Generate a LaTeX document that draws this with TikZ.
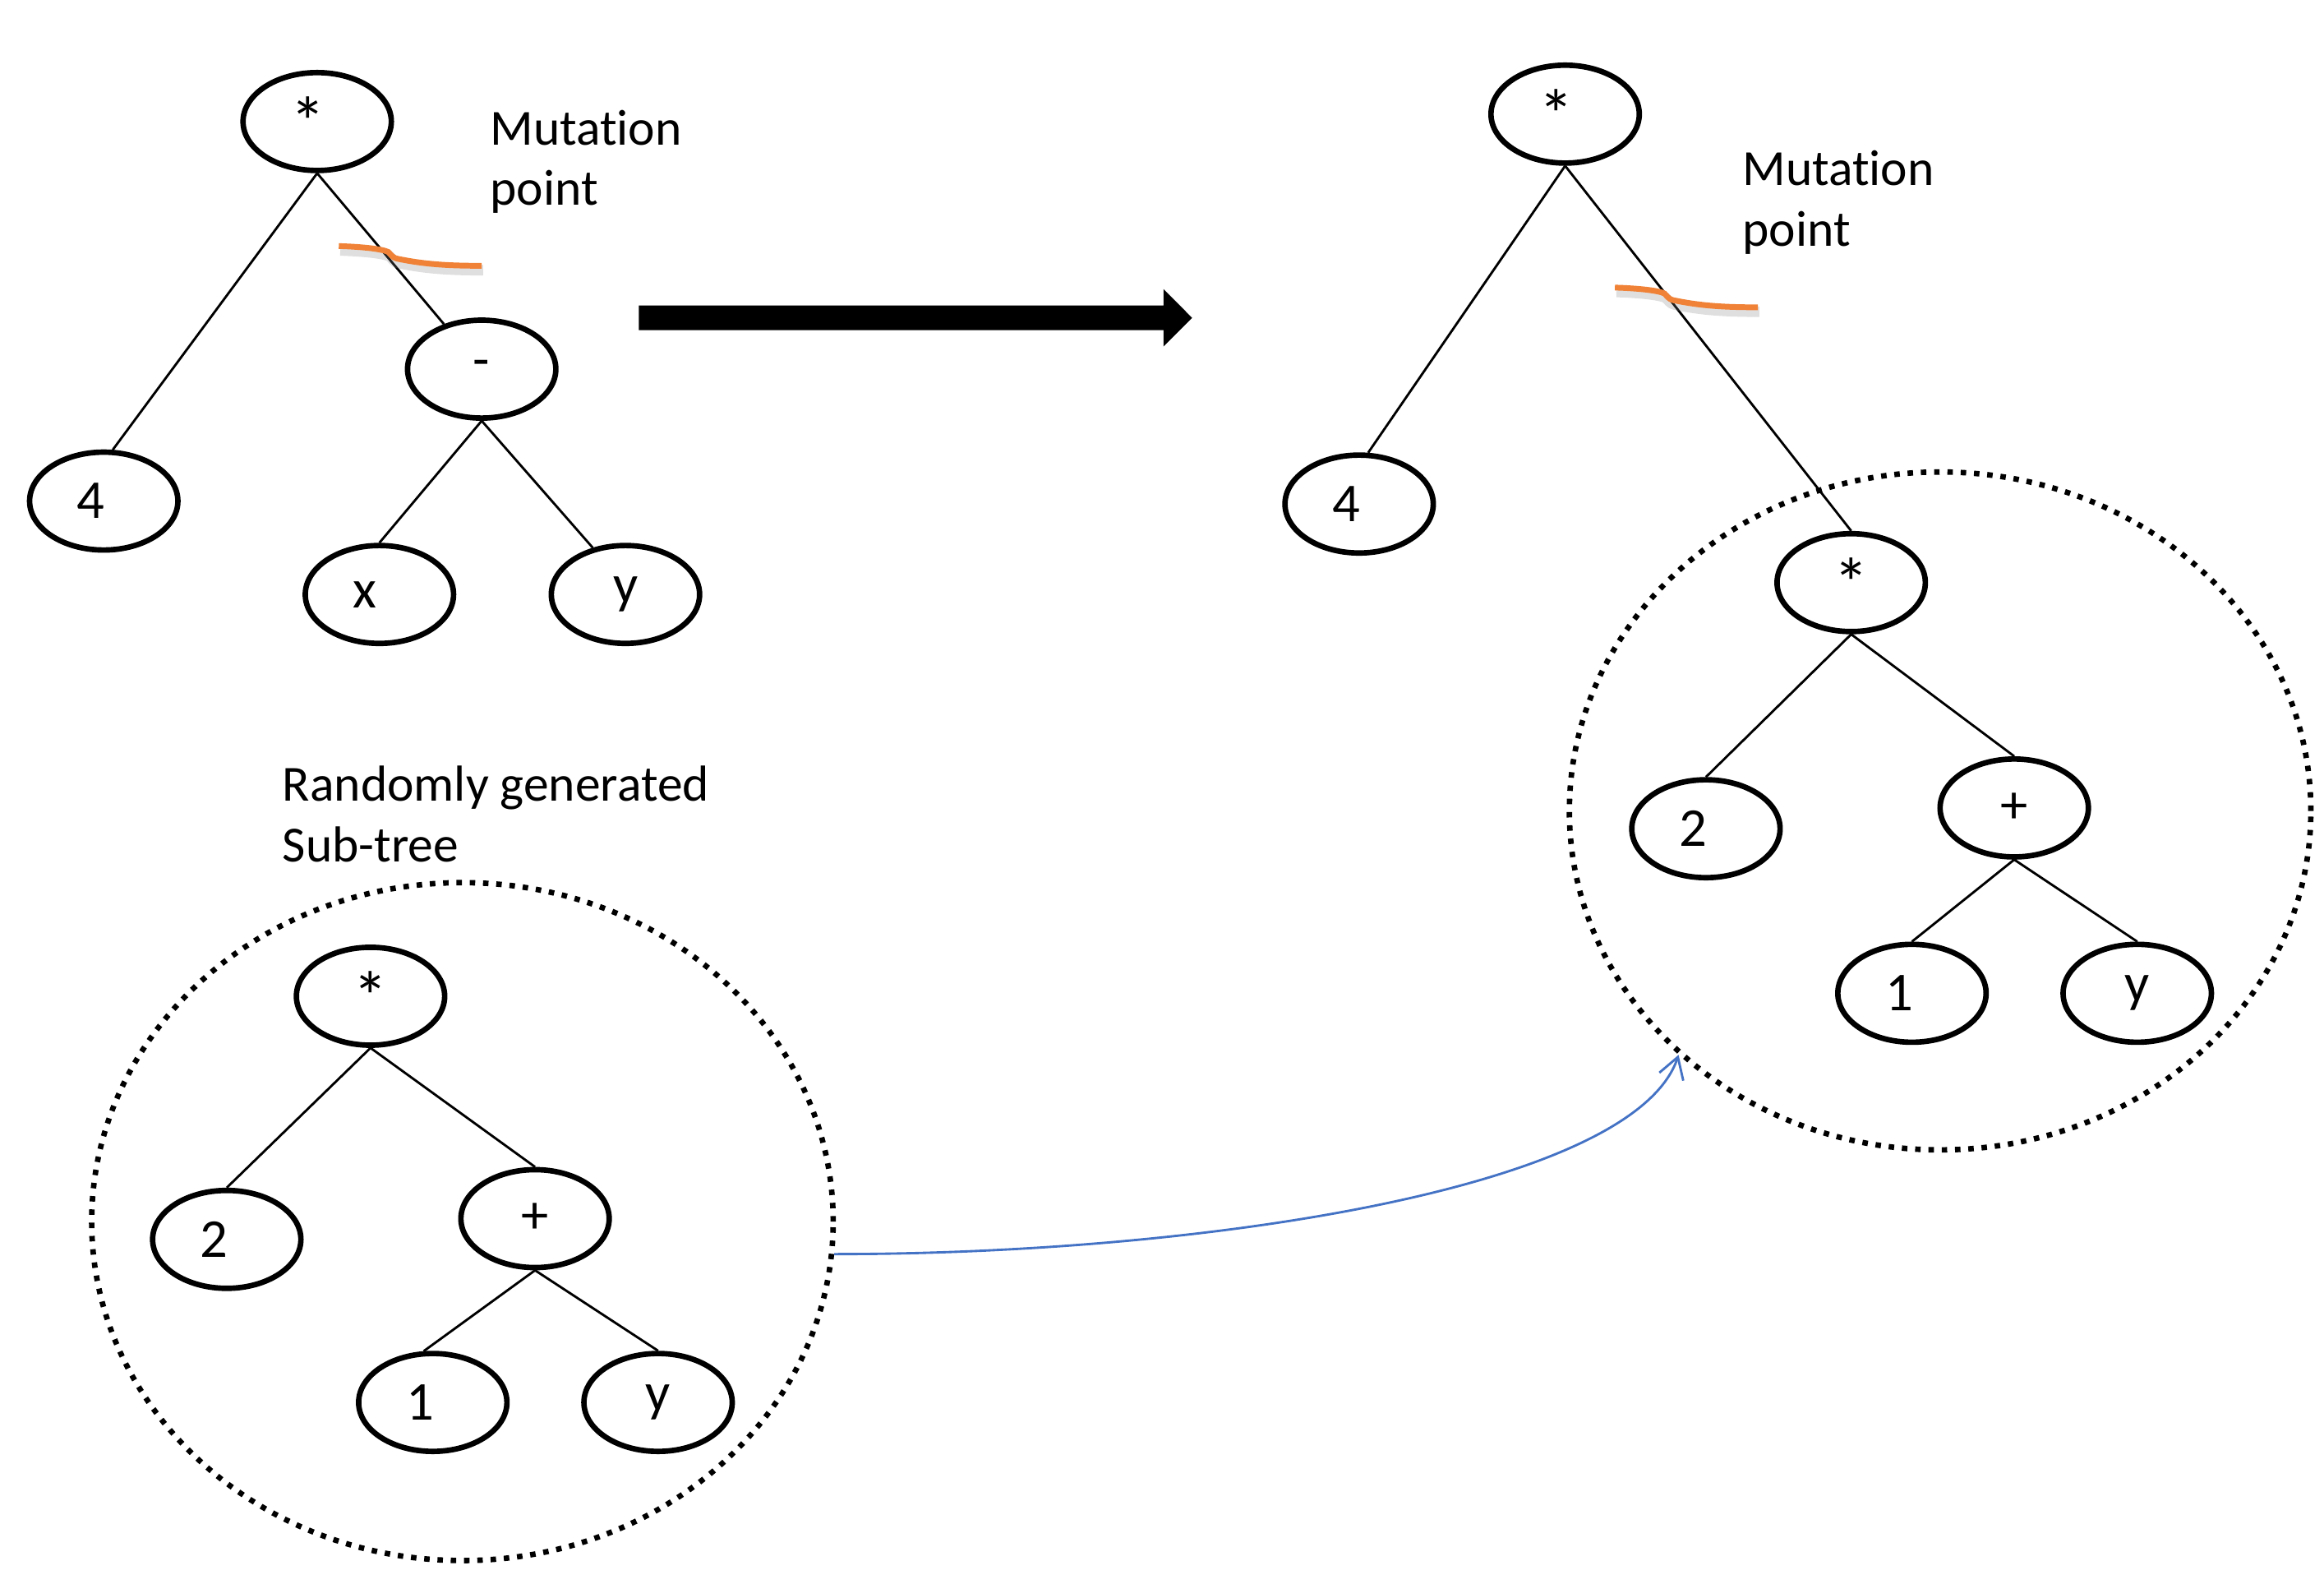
\documentclass[tikz,border=0pt]{standalone}
\usepackage{fontspec}
\setmainfont{Carlito}[Ligatures=NoCommon]
\usetikzlibrary{arrows.meta}
\usetikzlibrary{shapes.geometric}

\definecolor{cutorange}{RGB}{240,130,55}
\definecolor{linkblue}{RGB}{68,114,196}
\newcommand{\opstar}{{\fontsize{13.5}{13.5}\selectfont *}}

\begin{document}
\begin{tikzpicture} [x=.01cm, y=-.01cm, font=\fontsize{10.5}{12}\selectfont,
  gpnode/.style={draw, ellipse, line width=1.05pt, minimum width=1cm, minimum height=.66cm, inner sep=0pt},
  gpleft/.style={gpnode, text width=.36cm, align=left},
  subcircle/.style={draw, ellipse, line width=1.05pt, dash pattern=on 1.05pt off 1.5pt, minimum width=5cm, minimum height=4.57cm},
  branch/.style={line width=.45pt},
  caption/.style={anchor=north west, align=left, inner sep=0pt, font=\fontsize{9.7}{11.6}\selectfont}]
\useasboundingbox (0,0) rectangle (1568,1068);

% parent tree
\node[gpleft] (p0) at (214,82) {\opstar};
\node[gpleft] (p4) at (70,338) {4};
\node[gpnode] (pminus) at (325,249) {-};
\node[gpleft] (px) at (256,401) {x};
\node[gpnode] (py) at (422,401) {y};
\draw[branch] (p0.south) -- (p4.80);
\draw[branch] (p0.south) -- (pminus.130);
\draw[branch] (pminus.south) -- (px.north);
\draw[branch] (pminus.south) -- (py.125);

% child tree
\node[gpleft] (c0) at (1056,77) {\opstar};
\node[gpleft] (c4) at (917,340) {4};
\node[gpnode] (cmul) at (1249,393) {\opstar};
\node[gpleft] (c2) at (1151,559) {2};
\node[gpnode] (cplus) at (1359,545) {+};
\node[gpleft] (c1) at (1290,670) {1};
\node[gpnode] (cy) at (1442,670) {y};
\draw[branch] (c0.south) -- (c4.80);
\draw[branch] (c0.south) -- (cmul.north);
\draw[branch] (cmul.south) -- (c2.north);
\draw[branch] (cmul.south) -- (cplus.north);
\draw[branch] (cplus.south) -- (c1.north);
\draw[branch] (cplus.south) -- (cy.north);

% random sub-tree
\node[gpnode] (s0) at (250,672) {\opstar};
\node[gpleft] (s2) at (153,836) {2};
\node[gpnode] (splus) at (361,822) {+};
\node[gpleft] (s1) at (292,946) {1};
\node[gpnode] (sy) at (444,946) {y};
\draw[branch] (s0.south) -- (s2.north);
\draw[branch] (s0.south) -- (splus.north);
\draw[branch] (splus.south) -- (s1.100);
\draw[branch] (splus.south) -- (sy.north);

\node[subcircle] (subL) at (312,824) {};
\node[subcircle] (subR) at (1309,547) {};

\node[caption] (mutL) at (330,73.5) {Mutation\\point};
\node[caption] (mutR) at (1175,101) {Mutation\\point};
\node[caption] (randtext) at (190,516) {Randomly generated\\Sub-tree};

% cut marks
\foreach \dx/\dy in {0/0, 861/28} {
\draw[gray, opacity=.25, line width=2pt, shift={(\dx+1,\dy+3)}] (228.6,166) .. controls (245,166.5) and (258,168) .. (262,170) .. controls (264,171.5) and (264,173.5) .. (268,174.5) .. controls (285,178) and (300,179.3) .. (325,179.3);
\draw[cutorange, line width=1.1pt, shift={(\dx,\dy)}] (228.6,166) .. controls (245,166.5) and (258,168) .. (262,170) .. controls (264,171.5) and (264,173.5) .. (268,174.5) .. controls (285,178) and (300,179.3) .. (325,179.3);
}

\fill (431,206.1) -- (785,206.1) -- (785,195) -- (804.3,214.4) -- (785,233.8) -- (785,222.7) -- (431,222.7) -- cycle;

\draw[linkblue, line width=.45pt, -{Straight Barb[length=1.4mm, width=1.7mm]}] (subL.-5) .. controls +(250,0) and +(-30,90) .. (subR.223);

\end{tikzpicture}
\end{document}
